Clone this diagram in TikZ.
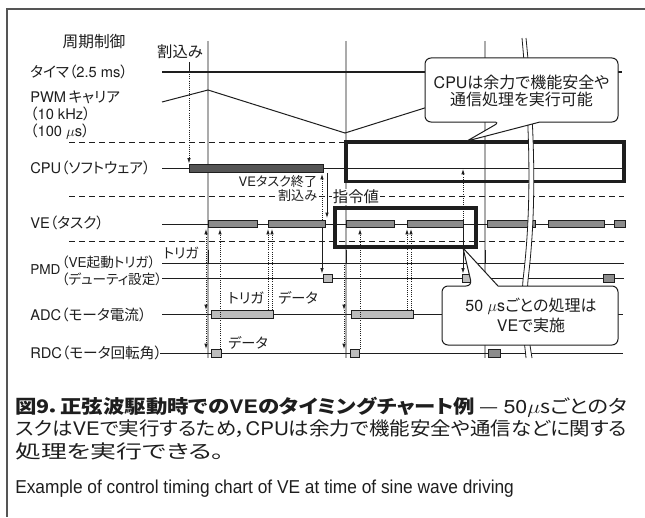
\documentclass[tikz,border=0pt]{standalone}
\usepackage{fontspec}
\usepackage{graphicx}
\setmainfont{Noto Sans CJK JP}[RawFeature=+palt]
\newfontfamily\la{TeX Gyre Heros}
\newfontfamily\lib{Liberation Sans}
\usetikzlibrary{arrows.meta}
\newcommand\lat[1]{{\la #1}}
\definecolor{ink}{HTML}{1E1E1E}
\definecolor{frame}{HTML}{555555}
\definecolor{cpubar}{HTML}{555555}
\definecolor{vebar}{HTML}{8C8C8C}
\definecolor{lightbar}{HTML}{BDBDBD}
\definecolor{gridgray}{HTML}{ABABAB}
\tikzset{
  sig/.style={draw=ink, line width=0.75pt},
  gridline/.style={draw=gridgray, line width=1.1pt},
  sep/.style={draw=ink, line width=0.7pt, dash pattern=on 4.5pt off 3pt},
  thickbox/.style={draw=ink, line width=2.5pt},
  bar/.style={draw=ink, line width=0.6pt},
  dotarrow/.style={draw=ink, line width=0.6pt, densely dotted, -{Latex[length=4pt,width=2.6pt]}},
  solarrow/.style={draw=ink, line width=0.6pt, -{Latex[length=4pt,width=2.6pt]}},
  lbl/.style={text=ink, inner sep=0pt, font=\fontsize{11}{12}\selectfont},
  small/.style={text=ink, inner sep=0pt, font=\fontsize{10.2}{11}\selectfont},
  note/.style={text=ink, inner sep=0.5pt, font=\fontsize{9.8}{11}\selectfont},
  callout/.style={draw=ink, fill=white, line width=0.75pt},
  calltext/.style={text=ink, inner sep=0pt, font=\fontsize{12}{13}\selectfont},
  captext/.style={text=ink, inner sep=0pt, anchor=west}
}
\begin{document}
\begin{tikzpicture}[x=0.75pt,y=-0.75pt]
\useasboundingbox (0,0) rectangle (645,517);
\fill[white] (0,0) rectangle (645,517);
% frame
\draw[draw=frame, line width=0.8pt] (645,9) -- (7,9) -- (7,517);

% grey period lines
\foreach \x in {208,346,485} \draw[gridline] (\x,41) -- (\x,358);

% dashed separators
\draw[sep] (69,142) -- (624,142);
\draw[sep] (69,196) -- (624,196);
\draw[sep] (69,241) -- (624,241);

% timer and PWM carrier
\draw[sig] (162,72) -- (622,72);
\draw[sig] (162,102) -- (208,90) -- (345,133) -- (482,90) -- (540,108);

% CPU row
\draw[sig] (162,168) -- (624,168);
\filldraw[bar, fill=cpubar] (189,164) rectangle (323,172.5);

% VE row
\draw[sig] (162,224) -- (624,224);
\foreach \a/\b in {208/257, 268/325, 346/394, 407/463, 487/535, 548/604, 614/625}
  \filldraw[bar, fill=vebar] (\a,220.5) rectangle (\b,227.5);

% PMD rows
\draw[sig] (162,263) -- (624,263);
\draw[sig] (162,278.5) -- (624,278.5);
\foreach \x in {208,346,485} \draw[sig] (\x,250) -- (\x,263);
\filldraw[bar, fill=lightbar] (323,274) rectangle (332.5,282.5);
\filldraw[bar, fill=lightbar] (462,274) rectangle (472,282.5);
\filldraw[bar, fill=vebar] (603,274) rectangle (614,282.5);

% ADC row
\draw[sig] (162,314) -- (623,314);
\filldraw[bar, fill=lightbar] (211,310) rectangle (273,318);
\filldraw[bar, fill=lightbar] (351,310) rectangle (413,318);

% RDC row
\draw[sig] (160,353) -- (623,353);
\filldraw[bar, fill=lightbar] (211,349) rectangle (221,357);
\filldraw[bar, fill=lightbar] (350,349) rectangle (359,357);
\filldraw[bar, fill=vebar] (488,349) rectangle (500,357);

% thick frames
\draw[thickbox] (346,142) rectangle (624,181.5);
\draw[thickbox] (335,208) rectangle (476,247);

% interrupt from timer
\draw[sig, line width=0.6pt] (189,62) -- (189,72);
\draw[dotarrow] (189,72) -- (189,163.5);

% cycle 1
\draw[dotarrow] (206,263) -- (206,229);
\draw[dotarrow] (206,263) -- (206,310);
\draw[dotarrow] (206,310) -- (206,349);
\draw[dotarrow] (220,349) -- (220,229);
\draw[dotarrow] (268,310) -- (268,229);
\draw[dotarrow] (272,310) -- (272,229);
\draw[dotarrow] (322,220) -- (322,174);
\draw[solarrow] (327,173) -- (327,218);
\draw[solarrow] (322,228) -- (322,273.5);

% cycle 2
\draw[dotarrow] (344,263) -- (344,310);
\draw[dotarrow] (344,310) -- (344,349);
\draw[dotarrow] (360,349) -- (360,229);
\draw[dotarrow] (407,310) -- (407,229);
\draw[dotarrow] (411,310) -- (411,229);
\draw[dotarrow] (463,220) -- (463,169);
\draw[solarrow] (463,228) -- (463,273.5);

% row labels
\node[lbl] (t0) at (94,42) {\fontsize{11.8}{13}\selectfont 周期制御};
\node[lbl] (t1) at (180,52) {\fontsize{11.5}{13}\selectfont 割込み};
\node[lbl, anchor=west] (l1) at (30,72) {タイマ（\lat{2.5 ms}）};
\node[lbl, anchor=west] (l2) at (30,97) {\lat{PWM}\,キャリア};
\node[lbl, anchor=west] (l3) at (30,114) {（\lat{10 kHz}）};
\node[lbl, anchor=west] (l4) at (30,132) {（\lat{100 $\mu$s}）};
\node[lbl, anchor=west] (l5) at (30,168) {\lat{CPU}（ソフトウェア）};
\node[lbl, anchor=west] (l6) at (30,223) {\lat{VE}（タスク）};
\node[lbl, anchor=west, font=\fontsize{10.2}{11}\selectfont] (l7) at (30,270) {\lat{PMD}};
\node[small, anchor=west] (l8) at (61.5,262) {（\lat{VE}起動トリガ）};
\node[small, anchor=west] (l9) at (61.5,279) {（デューティ設定）};
\node[lbl, anchor=west] (l10) at (30,315) {\lat{ADC}（モータ電流）};
\node[lbl, anchor=west] (l11) at (30,353) {\lat{RDC}（モータ回転角）};

% annotations
\node[note, anchor=east] (a1) at (318,182) {\lat{VE}タスク終了};
\node[note, anchor=east, fill=white] (a2) at (318,196) {割込み};
\node[note, anchor=west, fill=white, font=\fontsize{11.5}{13}\selectfont] (a3) at (332,197) {指令値};
\node[note, font=\fontsize{10.4}{12}\selectfont] (a4) at (181,253) {トリガ};
\node[note, font=\fontsize{10.6}{12}\selectfont] (a5) at (246,298) {トリガ};
\node[note, font=\fontsize{10.6}{12}\selectfont] (a6) at (298,298) {データ};
\node[note, font=\fontsize{10.6}{12}\selectfont] (a7) at (248,343) {データ};

% break mark
\fill[white] (522,38) .. controls (533,160) and (529,230) .. (523,280)
  .. controls (520,320) and (525,345) .. (526,358) -- (532,358)
  .. controls (530,345) and (525,320) .. (528,280)
  .. controls (534,230) and (538,160) .. (526,38) -- cycle;
\draw[sig, line width=0.6pt] (522,38) .. controls (533,160) and (529,230) .. (523,280)
  .. controls (520,320) and (525,345) .. (526,358);
\draw[sig, line width=0.6pt] (526,38) .. controls (538,160) and (534,230) .. (528,280)
  .. controls (525,320) and (530,345) .. (532,358);

% callouts
\draw[callout] (540,58) [rounded corners=4.5pt] -- (425,58) -- (425,122) -- (500,122)
  [sharp corners] -- (467,141) -- (540,122) [rounded corners=4.5pt] -- (618,122) -- (618,58) -- cycle;
\node[calltext] (c1) at (521.5,82) {\lat{CPU}は余力で機能安全や};
\node[calltext] (c2) at (521.5,99.5) {通信処理を実行可能};

\draw[callout] (530,345) [rounded corners=4.5pt] -- (442,345) -- (442,286) -- (472,286)
  [sharp corners] -- (463,248) -- (498,286) [rounded corners=4.5pt] -- (618,286) -- (618,345) -- cycle;
\node[calltext] (c3) at (531,306) {\lat{50 $\mu$s}ごとの処理は};
\node[calltext] (c4) at (531,325) {\lat{VE}で実施};

% caption
\node[captext] (k1) at (15,407) {\resizebox{459pt}{\height}{\fontsize{14}{16}\selectfont\bfseries 図9．正弦波駆動時での\lat{VE}のタイミングチャート例\mdseries\ — \lat{50}$\mu$sごとのタ}};
\node[captext] (k2) at (15,429) {\resizebox{459pt}{\height}{\fontsize{14}{16}\selectfont スクは\lat{VE}で実行するため，\lat{CPU}は余力で機能安全や通信などに関する}};
\node[captext] (k3) at (15,451) {\resizebox{157pt}{\height}{\fontsize{14}{16}\selectfont 処理を実行できる。}};
\node[captext] (k4) at (15,489) {\resizebox{374pt}{\height}{\lib\fontsize{14}{16}\selectfont Example of control timing chart of VE at time of sine wave driving}};
\end{tikzpicture}
\end{document}
